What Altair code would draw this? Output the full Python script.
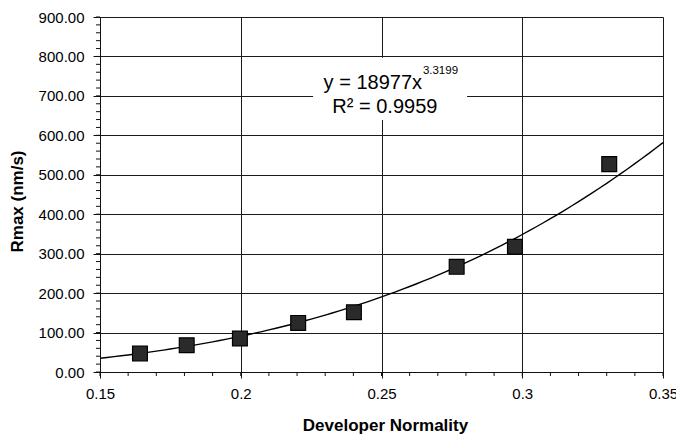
import altair as alt
import pandas as pd

# Measured dissolution rate against developer normality
normality = [0.1642, 0.1808, 0.1997, 0.2204, 0.2402, 0.2767, 0.2974, 0.3309]
rmax = [46.7, 67.8, 84.8, 124.4, 151.6, 266.6, 317.4, 527.0]

# Power-law trendline y = A * x^B, as given by the fit
fit_a = 18977
fit_b = 3.3199
fit_r2 = 0.9959

x_ticks = [0.15, 0.2, 0.25, 0.3, 0.35]
y_ticks = [0, 100, 200, 300, 400, 500, 600, 700, 800, 900]

FONT = "Liberation Sans"
W, H = 563, 355

points = pd.DataFrame({"normality": normality, "rmax": rmax})

x_scale = alt.Scale(domain=[0.15, 0.35], nice=False, zero=False)
y_scale = alt.Scale(domain=[0, 900], nice=False)

x_axis = alt.Axis(
    values=x_ticks, format="~g", grid=True, gridColor="#1a1a1a", gridOpacity=1,
    domainColor="#111", tickColor="#111", tickSize=6, labelPadding=8,
    labelFont=FONT, labelFontSize=15, labelColor="#000", labelFlush=False,
    labelOverlap=False,
    title="Developer Normality", titleFont=FONT, titleFontSize=17,
    titleFontWeight="bold", titleColor="#000",
    titleX=285, titleY=58, titleBaseline="alphabetic", titleAnchor="start",
    titleAlign="center",
)
y_axis = alt.Axis(
    values=y_ticks, format=".2f", grid=True, gridColor="#1a1a1a", gridOpacity=1,
    domainColor="#111", tickColor="#111", tickSize=7, labelPadding=9,
    labelFont=FONT, labelFontSize=15, labelColor="#000", labelFlush=False,
    labelOverlap=False,
    title="Rmax (nm/s)", titleFont=FONT, titleFontSize=17,
    titleFontWeight="bold", titleColor="#000",
    titleX=-78, titleY=184, titleAngle=270, titleBaseline="alphabetic",
    titleAlign="center", titleAnchor="start",
)


def xq(field):
    return alt.X(field, scale=x_scale, axis=x_axis)


def yq(field):
    return alt.Y(field, scale=y_scale, axis=y_axis)


# Minor tick marks on both axes
y_minor = alt.Chart(alt.sequence(0, 901, 20, as_="v")).mark_rule(
    color="#111", strokeWidth=1
).encode(y=yq("v:Q"), x=alt.value(-4), x2=alt.value(0))

x_minor = alt.Chart(alt.sequence(0.15, 0.3501, 0.01, as_="v")).mark_rule(
    color="#111", strokeWidth=1
).encode(x=xq("v:Q"), y=alt.value(H), y2=alt.value(H + 4))

# Trendline drawn from the fitted equation
trend = alt.Chart(alt.sequence(0.15, 0.3501, 0.0025, as_="normality")).transform_calculate(
    rmax=f"{fit_a} * pow(datum.normality, {fit_b})"
).mark_line(color="#000", strokeWidth=1.4).encode(
    x=xq("normality:Q"), y=yq("rmax:Q")
)

# Equation label on a white box
box = alt.Chart(pd.DataFrame({"x0": [0.2257], "x1": [0.2804], "y0": [639], "y1": [797]})).mark_rect(
    color="white"
).encode(x=xq("x0:Q"), x2="x1:Q", y=yq("y0:Q"), y2="y1:Q")

eq_main = alt.Chart(pd.DataFrame({"x": [0.2644], "y": [718], "t": [f"y = {fit_a}x"]})).mark_text(
    font=FONT, fontSize=20, align="right", baseline="alphabetic", color="#000"
).encode(x=xq("x:Q"), y=yq("y:Q"), text="t:N")

eq_exp = alt.Chart(pd.DataFrame({"x": [0.2647], "y": [756], "t": [f"{fit_b}"]})).mark_text(
    font=FONT, fontSize=11.5, align="left", baseline="alphabetic", color="#000"
).encode(x=xq("x:Q"), y=yq("y:Q"), text="t:N")

eq_r2 = alt.Chart(pd.DataFrame({"x": [0.2512], "y": [657], "t": [f"R² = {fit_r2}"]})).mark_text(
    font=FONT, fontSize=20, align="center", baseline="alphabetic", color="#000"
).encode(x=xq("x:Q"), y=yq("y:Q"), text="t:N")

# Data points: dark square markers
markers = alt.Chart(points).mark_point(
    shape="square", filled=True, size=220, color="#2a2a2a",
    stroke="#000", strokeWidth=1.2, opacity=1,
).encode(x=xq("normality:Q"), y=yq("rmax:Q"))

chart = alt.layer(
    y_minor, x_minor, trend, box, eq_main, eq_exp, eq_r2, markers
).properties(
    width=W, height=H,
    autosize=alt.AutoSizeParams(type="none"),
    padding={"left": 100, "top": 17, "right": 13, "bottom": 62},
    background="white",
).configure_view(stroke="transparent")

chart.save("out.html", embed_options={"renderer": "svg", "actions": False})
